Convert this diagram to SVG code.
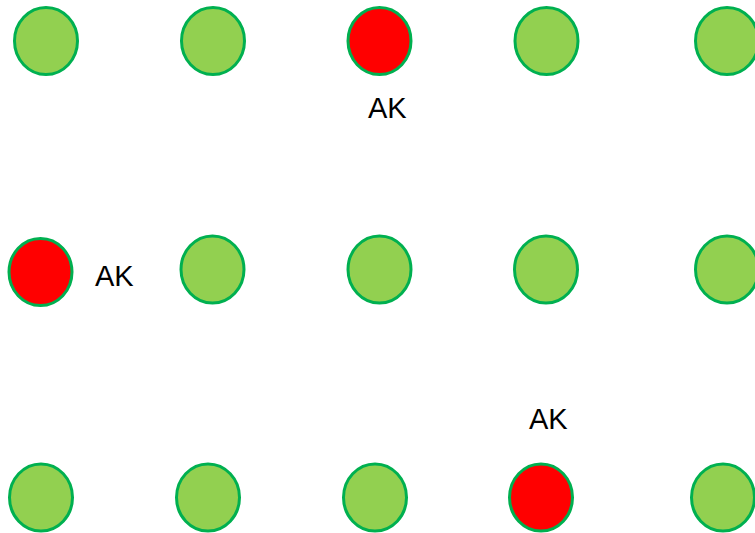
<svg xmlns="http://www.w3.org/2000/svg" width="755" height="533" viewBox="0 0 755 533">
  <style>
    .dot { fill: #92D050; stroke: #00B050; stroke-width: 3; }
    .dot.ak { fill: #FF0000; }
    .lbl { font-family: "Liberation Sans", Arial, sans-serif; font-size: 29px; fill: #000; }
  </style>
  <rect width="755" height="533" fill="#FFFFFF"/>
  <g id="connectors"/>
  <!-- row 1 -->
  <g id="n-r1c1"><ellipse class="dot" cx="46" cy="41" rx="31.5" ry="33.5"/></g>
  <g id="n-r1c2"><ellipse class="dot" cx="213" cy="41" rx="31.5" ry="33.5"/></g>
  <g id="n-r1c3"><ellipse class="dot ak" cx="379.5" cy="41" rx="31.5" ry="33.5"/>
    <text class="lbl" x="368" y="118">AK</text></g>
  <g id="n-r1c4"><ellipse class="dot" cx="546.5" cy="41" rx="31.5" ry="33.5"/></g>
  <g id="n-r1c5"><ellipse class="dot" cx="727" cy="41" rx="31.5" ry="33.5"/></g>
  <!-- row 2 -->
  <g id="n-r2c1"><ellipse class="dot ak" cx="40.5" cy="272" rx="31.5" ry="33.5"/>
    <text class="lbl" x="95" y="286">AK</text></g>
  <g id="n-r2c2"><ellipse class="dot" cx="212.5" cy="269.5" rx="31.5" ry="33.5"/></g>
  <g id="n-r2c3"><ellipse class="dot" cx="379.5" cy="269.5" rx="31.5" ry="33.5"/></g>
  <g id="n-r2c4"><ellipse class="dot" cx="546" cy="269.5" rx="31.5" ry="33.5"/></g>
  <g id="n-r2c5"><ellipse class="dot" cx="727" cy="269.5" rx="31.5" ry="33.5"/></g>
  <!-- row 3 -->
  <g id="n-r3c1"><ellipse class="dot" cx="41" cy="497.5" rx="31.5" ry="33.5"/></g>
  <g id="n-r3c2"><ellipse class="dot" cx="208" cy="497.5" rx="31.5" ry="33.5"/></g>
  <g id="n-r3c3"><ellipse class="dot" cx="375" cy="497.5" rx="31.5" ry="33.5"/></g>
  <g id="n-r3c4"><ellipse class="dot ak" cx="541" cy="497.5" rx="31.5" ry="33.5"/>
    <text class="lbl" x="529" y="429">AK</text></g>
  <g id="n-r3c5"><ellipse class="dot" cx="723" cy="497.5" rx="31.5" ry="33.5"/></g>
</svg>
